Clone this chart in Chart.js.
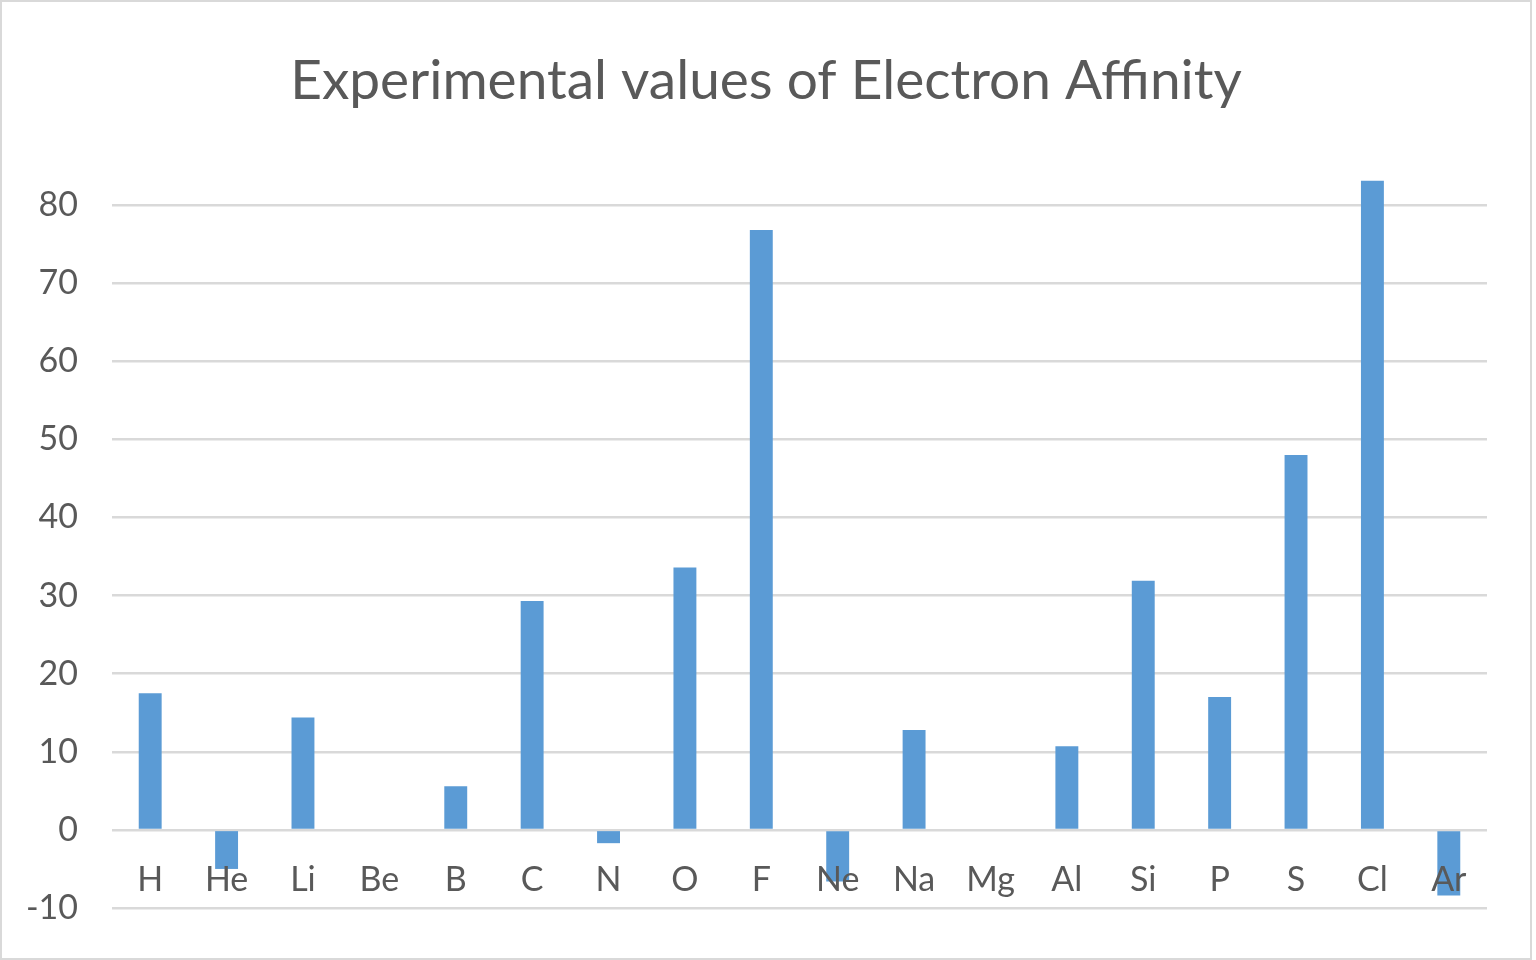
<!DOCTYPE html>
<html>
<head>
<meta charset="utf-8">
<script src="https://cdn.jsdelivr.net/npm/chart.js@4"></script>
<style>
  html, body { margin: 0; padding: 0; background: #fff; }
  #frame {
    width: 1532px; height: 960px; box-sizing: border-box;
    border: 2px solid #d9d9d9; background: #fff;
  }
</style>
</head>
<body>
<div id="frame"><canvas id="affinityChart" width="1528" height="956"></canvas></div>
<script>
// Electron affinity values (kcal/mol)
const elements = ['H', 'He', 'Li', 'Be', 'B', 'C', 'N', 'O', 'F', 'Ne', 'Na', 'Mg', 'Al', 'Si', 'P', 'S', 'Cl', 'Ar'];
const affinity = [17.5, -5.0, 14.4, 0, 5.6, 29.3, -1.7, 33.6, 76.8, -6.6, 12.8, 0, 10.7, 31.9, 17.0, 48.0, 83.1, -8.4];
const yTicks = [-10, 0, 10, 20, 30, 40, 50, 60, 70, 80];

const textColor = '#595959';
const gridColor = '#d9d9d9';
const fontFamily = 'Lato, "Open Sans", sans-serif';

function initializeAffinityChart() {
  const ctx = document.getElementById('affinityChart');
  if (!ctx) return;

  new Chart(ctx, {
    type: 'bar',
    data: {
      labels: elements,
      datasets: [
        {
          label: 'Electron Affinity',
          data: affinity,
          backgroundColor: '#5b9bd5',
          barPercentage: 0.3,
          categoryPercentage: 1
        }
      ]
    },
    options: {
      responsive: false,
      animation: false,
      layout: {
        padding: { left: 0, right: 0, top: 0, bottom: 50 }
      },
      plugins: {
        legend: { display: false },
        tooltip: { enabled: false },
        title: {
          display: true,
          text: 'Experimental values of Electron Affinity',
          color: textColor,
          font: { family: fontFamily, size: 55, weight: 'normal' },
          padding: { top: 46, bottom: 52 }
        }
      },
      scales: {
        x: {
          position: { y: 0 },
          // labels sit inside the plot, so the axis takes no layout space
          afterFit: (scale) => { scale.height = 0; },
          grid: { display: false, drawTicks: false },
          border: { display: false },
          ticks: {
            z: 1, // labels are drawn on top of the negative bars
            color: textColor,
            font: { family: fontFamily, size: 34 },
            padding: 30,
            autoSkip: false,
            maxRotation: 0
          }
        },
        y: {
          min: -10,
          max: 85,
          afterBuildTicks: (scale) => {
            scale.ticks = yTicks.map(v => ({ value: v }));
          },
          afterFit: (scale) => {
            scale.width = 110;
            // tick padding is horizontal here, don't let it pad the plot vertically
            scale.paddingTop = 0;
            scale.paddingBottom = 0;
          },
          grid: { color: gridColor, lineWidth: 2.5, drawTicks: false },
          border: { display: false },
          ticks: {
            color: textColor,
            font: { family: fontFamily, size: 34 },
            padding: 34
          }
        },
        // empty right axis, only keeps the right margin of the plot
        yRight: {
          type: 'linear',
          position: 'right',
          afterFit: (scale) => { scale.width = 43; },
          grid: { display: false, drawTicks: false },
          border: { display: false },
          ticks: { display: false }
        }
      }
    }
  });
}

document.addEventListener('DOMContentLoaded', () => {
  initializeAffinityChart();
});
</script>
</body>
</html>
